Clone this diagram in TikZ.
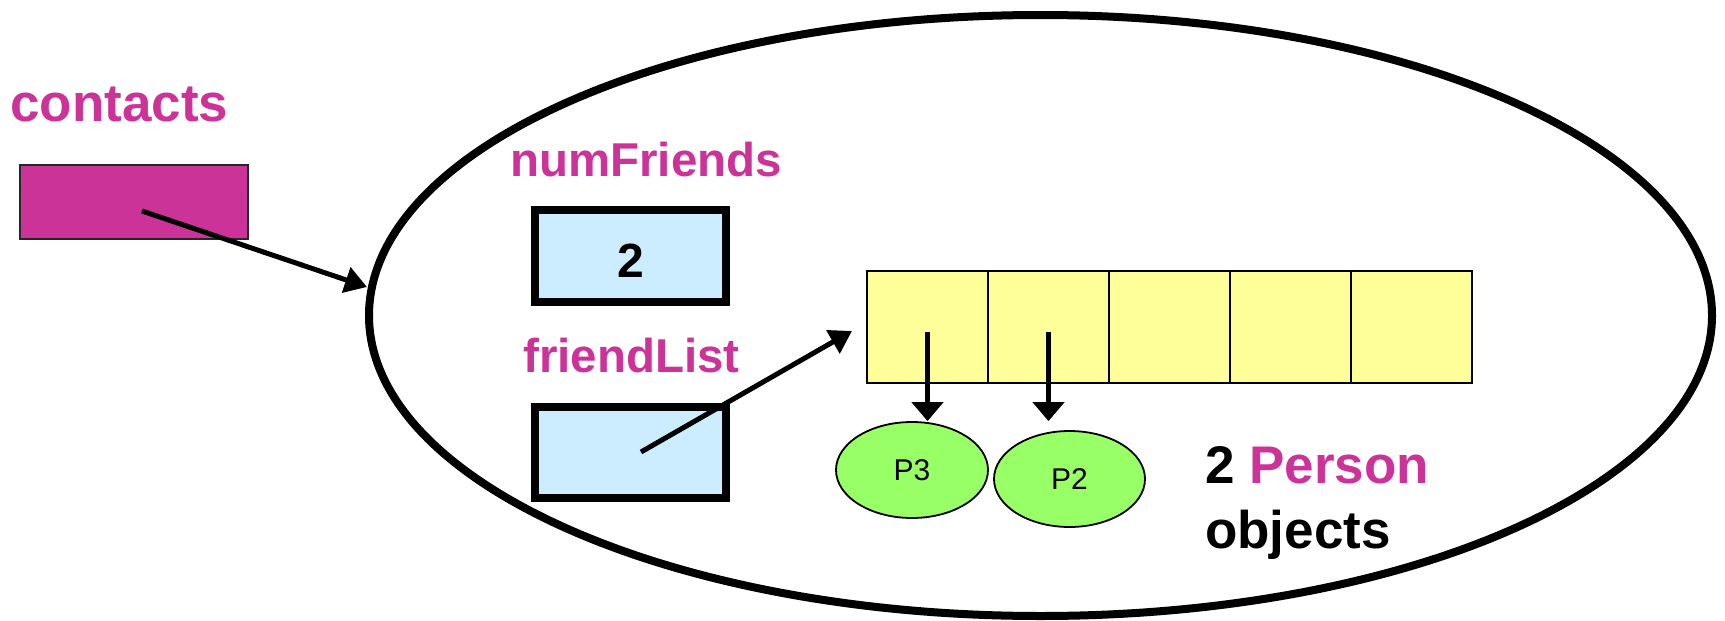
\documentclass[tikz,border=0pt]{standalone}
\usepackage{fontspec}
\setmainfont{Liberation Sans}
\usetikzlibrary{shapes.geometric,arrows.meta}
\definecolor{plum}{HTML}{CC3399}
\definecolor{paleblue}{HTML}{CCECFF}
\definecolor{paleyellow}{HTML}{FFFF99}
\definecolor{persongreen}{HTML}{99FF66}
\begin{document}
\begin{tikzpicture}[x=1pt,y=-1pt,
  varname/.style={font=\fontsize{47.5}{55}\selectfont\bfseries, text=plum, inner sep=0pt, anchor=base west},
  bigname/.style={font=\fontsize{53}{60}\selectfont\bfseries, inner sep=0pt, anchor=base west},
  valbox/.style={draw=black, line width=8pt, fill=paleblue, inner sep=0pt, minimum width=191pt, minimum height=92pt},
  cell/.style={draw=black, line width=2pt, fill=paleyellow, inner sep=0pt, minimum width=121pt, minimum height=112pt},
  person/.style={ellipse, draw=black, line width=1.8pt, fill=persongreen, inner sep=0pt,
    minimum width=152pt, minimum height=96pt, font=\fontsize{30}{34}\selectfont},
  ptr/.style={line width=5pt, -{Triangle[length=22pt,width=26pt]}},
  down/.style={line width=5.5pt, -{Triangle[length=19pt,width=31pt]}}
]
\useasboundingbox (0,0) rectangle (1725,621);

% the object holding the two fields
\node[ellipse, draw=black, line width=8pt, inner sep=0pt,
  minimum width=1343pt, minimum height=601pt] (obj) at (1040.5,315.5) {};

% the reference variable
\node[bigname, text=plum] (contactsname) at (10,121) {contacts};
\node[draw=black!85, line width=2pt, fill=plum, inner sep=0pt,
  minimum width=228pt, minimum height=74pt] (cbox) at (134,202) {};
\coordinate (cptr) at (142,211);
\coordinate (ctip) at (367,287);
\draw[ptr] (cptr) -- (ctip);

% numFriends field
\node[varname] (nfname) at (510,176) {numFriends};
\node[valbox] (nfbox) at (630.5,256) {};
\node[font=\fontsize{48}{55}\selectfont\bfseries, inner sep=0pt, anchor=base] (nfval) at (630.5,277) {2};

% the array of five slots
\foreach \i in {1,...,5}
  \node[cell] (c\i) at ({927.5+121*(\i-1)},327) {};

% friendList field
\node[varname] (flname) at (523,372) {friendList};
\node[valbox, minimum height=91pt] (flbox) at (630.5,452.5) {};
\coordinate (flptr) at (641,452);
\coordinate (fltip) at (852,331);
\draw[ptr] (flptr) -- (fltip);

% the Person objects
\node[person] (p3) at (912,470) {P3};
\node[person, minimum width=151pt] (p2) at (1069.5,479) {P2};
\draw[down] (c1.center |- 0,332) -- (c1.center |- p3.north);
\draw[down] (c2.center |- 0,332) -- (c2.center |- p3.north);

% caption
\node[bigname] (cap1) at (1205,483) {2 \textcolor{plum}{Person}};
\node[bigname] (cap2) at (1205,548) {objects};
\end{tikzpicture}
\end{document}
